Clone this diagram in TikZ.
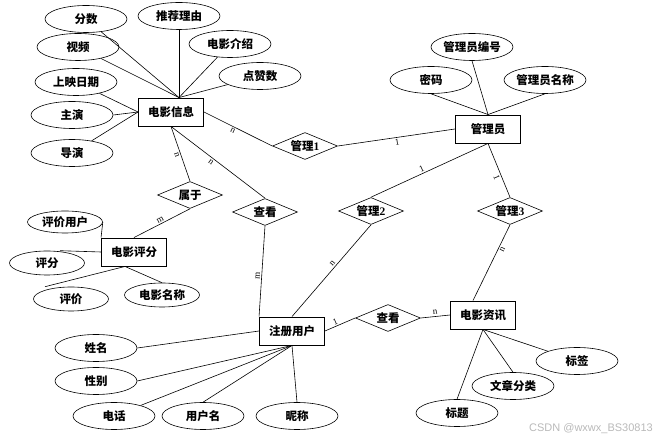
\documentclass[tikz,border=0pt]{standalone}
\usepackage{fontspec}
\setmainfont{Liberation Serif}
\newfontfamily\cjk{Noto Sans CJK SC}
\newfontfamily\wmfont{Liberation Sans}
\usepackage{tikz}
\usetikzlibrary{shapes.geometric, positioning}
\newcommand{\erfont}{\cjk\bfseries\fontsize{11.5}{13}\selectfont}
\tikzset{
  entity/.style={rectangle, draw=black, line width=0.9pt, minimum width=65pt, minimum height=28pt, inner sep=0pt, font=\erfont},
  attr/.style={ellipse, draw=black, line width=0.6pt, minimum width=82pt, minimum height=27pt, inner sep=0pt, font=\erfont},
  sattr/.style={attr, minimum width=75pt, minimum height=24pt},
  rel/.style={diamond, draw=black, line width=0.6pt, aspect=2.4, minimum width=65pt, minimum height=27pt, inner sep=0pt, font=\erfont},
  line/.style={line width=0.6pt, color=black},
  card/.style={font=\small, sloped, inner sep=1.5pt}
}

\begin{document}
\begin{tikzpicture}[x=1pt, y=-1pt]
  \useasboundingbox (0,0) rectangle (670,443);

  % entities
  \node [entity] (info) at (171,112) {电影信息};
  \node [entity] (admin) at (488,129) {管理员};
  \node [entity] (score) at (134,252) {电影评分};
  \node [entity] (user) at (292,331) {注册用户};
  \node [entity] (news) at (483,315) {电影资讯};

  % relations
  \node [rel] (gl1) at (305,146) {管理\textrm{1}};
  \node [rel] (sy) at (190,195) {属于};
  \node [rel] (ck1) at (265,212) {查看};
  \node [rel] (gl2) at (371,211) {管理\textrm{2}};
  \node [rel] (gl3) at (510,211) {管理\textrm{3}};
  \node [rel] (ck2) at (388,318) {查看};

  % attributes of 电影信息
  \node [attr] (fs) at (86,19) {分数};
  \node [attr] (tjly) at (179,16) {推荐理由};
  \node [attr] (dyjs) at (230,44) {电影介绍};
  \node [attr] (sp) at (78,47) {视频};
  \node [attr] (dzs) at (260,76) {点赞数};
  \node [attr] (syrq) at (76,82) {上映日期};
  \node [attr] (zy) at (72,115) {主演};
  \node [attr] (dy) at (72,153) {导演};
  \draw [line] (fs) -- ([xshift=8pt]info.north);
  \draw [line] (sp) -- ([xshift=8pt]info.north);
  \draw [line] (tjly.south) -- ([xshift=8pt]info.north);
  \draw [line] (dyjs) -- ([xshift=8pt]info.north);
  \draw [line] (dzs) -- ([xshift=8pt]info.north);
  \draw [line] (syrq) -- (info.west);
  \draw [line] (zy.east) -- (info.west);
  \draw [line] (dy) -- (info.west);

  % attributes of 管理员
  \node [attr] (glybh) at (472,47) {管理员编号};
  \node [attr] (mm) at (431,80) {密码};
  \node [attr] (glymc) at (545,80) {管理员名称};
  \draw [line] (glybh.south) -- (admin.north);
  \draw [line] (mm.south) -- (admin.north);
  \draw [line] (glymc.south) -- (admin.north);

  % attributes of 电影评分
  \node [sattr, minimum height=22pt] (pjyh) at (65,222) {评价用户};
  \node [sattr] (pf) at (47,263) {评分};
  \node [sattr] (pj) at (71,299) {评价};
  \node [sattr] (dymc) at (162,295) {电影名称};
  \draw [line] (pjyh.east) -- (score.north west);
  \draw [line] ([xshift=13pt]pf.north) -- (score.west);
  \draw [line] ([xshift=-26pt]pj.north) -- ([xshift=-9pt]score.south);
  \draw [line] (dymc.north) -- ([xshift=-9pt]score.south);

  % attributes of 注册用户
  \node [attr] (xm) at (96,348) {姓名};
  \node [attr] (xb) at (96,381) {性别};
  \node [attr] (dh) at (114,416) {电话};
  \node [attr] (yhm) at (203,416) {用户名};
  \node [attr] (nc) at (297,416) {昵称};
  \draw [line] (xm.east) -- (user.west);
  \draw [line] (xb.east) -- (user.south);
  \draw [line] (dh) -- (user.south);
  \draw [line] (yhm.north) -- (user.south);
  \draw [line] (nc.north) -- (user.south);

  % attributes of 电影资讯
  \node [attr] (bq) at (577,361) {标签};
  \node [attr] (wzfl) at (513,386) {文章分类};
  \node [attr] (bt) at (457,413) {标题};
  \draw [line] (bq) -- (news.south);
  \draw [line] (wzfl.north) -- (news.south);
  \draw [line] (bt.north) -- (news.south);

  % relationships
  \draw [line] (info.east) -- node [card, pos=0.45, below] {n} (gl1.west);
  \draw [line] (gl1.east) -- node [card, pos=0.5, below] {1} (admin.west);
  \draw [line] (info.south) -- node [card, pos=0.5, below] {n} (sy.north);
  \draw [line] (info.south) -- node [card, pos=0.45, below] {n} (ck1.north);
  \draw [line] (sy.south) -- node [card, pos=0.5, above] {m} (score.north);
  \draw [line] (ck1.south) -- node [card, pos=0.55, above] {m} (user.north west);
  \draw [line] (admin.south) -- node [card, pos=0.55, above] {1} (gl2.north);
  \draw [line] (admin.south) -- node [card, pos=0.6, below] {1} (gl3.north);
  \draw [line] (gl2.south) -- node [card, pos=0.45, above] {n} (user.north);
  \draw [line] (gl3.south) -- node [card, pos=0.3, below] {n} ([xshift=-10pt]news.north);
  \draw [line] (user.east) -- node [card, pos=0.4, above] {1} (ck2.west);
  \draw [line] (ck2.east) -- node [card, pos=0.5, above] {n} (news.west);

  \node [font=\wmfont\fontsize{11}{12}\selectfont, text=gray!55] (wm) at (591,429) {CSDN @wxwx\_BS30813};
\end{tikzpicture}
\end{document}
